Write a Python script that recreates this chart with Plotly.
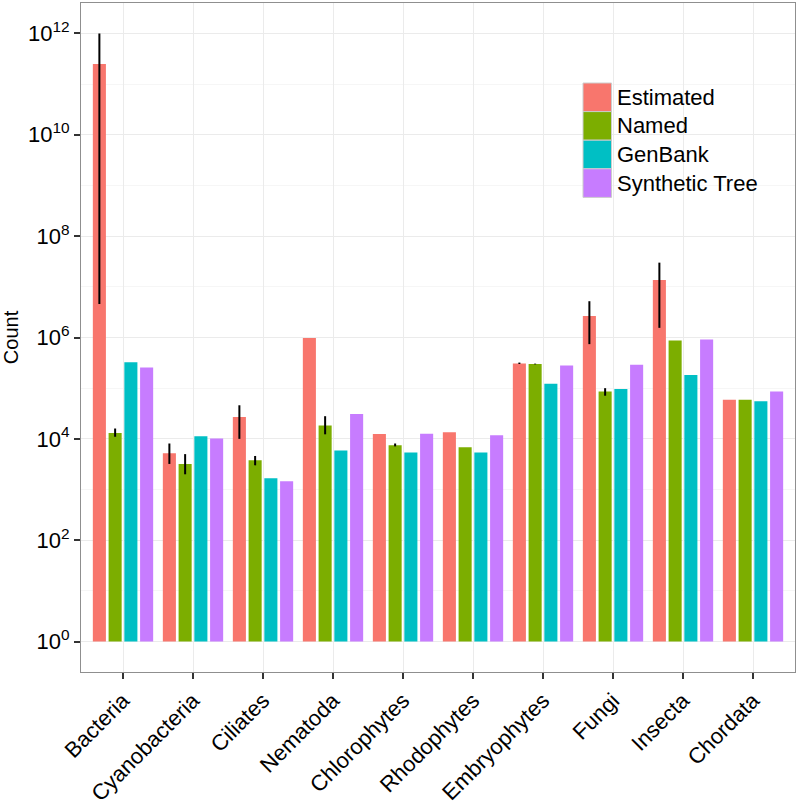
import plotly.graph_objects as go

# ---------------- data ----------------
categories = ["Bacteria", "Cyanobacteria", "Ciliates", "Nematoda", "Chlorophytes",
              "Rhodophytes", "Embryophytes", "Fungi", "Insecta", "Chordata"]
series_names = ["Estimated", "Named", "GenBank", "Synthetic Tree"]

estimated = [2.5e11, 5.2e3, 2.7e4, 9.8e5, 1.25e4, 1.35e4, 3.08e5, 2.65e6, 1.36e7, 5.9e4]
named     = [1.3e4, 3.2e3, 3.8e3, 1.83e4, 7.5e3, 6.8e3, 3.0e5, 8.6e4, 8.7e5, 5.9e4]
genbank   = [3.25e5, 1.12e4, 1.67e3, 5.9e3, 5.4e3, 5.4e3, 1.22e5, 9.6e4, 1.83e5, 5.5e4]
synthetic = [2.57e5, 1.02e4, 1.45e3, 3.1e4, 1.26e4, 1.18e4, 2.8e5, 2.9e5, 9.1e5, 8.6e4]

estimated_hi = [1.0e12, 8.1e3, 4.6e4, None, None, None, 3.2e5, 5.2e6, 3.0e7, None]
estimated_lo = [4.6e6, 3.2e3, 1.0e4, None, None, None, 3.0e5, 7.4e5, 1.55e6, None]
named_hi     = [1.6e4, 5.0e3, 4.6e3, 2.8e4, 8.1e3, None, 3.05e5, 1.0e5, None, None]
named_lo     = [1.1e4, 2.0e3, 3.0e3, 1.23e4, 7.1e3, None, 2.95e5, 7.1e4, None, None]
no_err       = [None] * len(categories)

series_values = [estimated, named, genbank, synthetic]
series_hi = [estimated_hi, named_hi, no_err, no_err]
series_lo = [estimated_lo, named_lo, no_err, no_err]

y_tick_exponents = [0, 2, 4, 6, 8, 10, 12]
y_minor_exponents = [1, 3, 5, 7, 9, 11]

# ---------------- styling ----------------
colors = ["#F8766D", "#7CAE00", "#00BFC4", "#C77CFF"]
FONT = "Liberation Sans, Arial, Helvetica, sans-serif"
W, H = 796, 806
ML, MR, MT, MB = 81, 1, 3, 134
BASE = 1.0  # bars grow from 10^0 as in the original

fig = go.Figure()
for name, vals, hi, lo, col in zip(series_names, series_values, series_hi, series_lo, colors):
    plus = [(h - v) if h is not None else 0 for h, v in zip(hi, vals)]
    minus = [(v - l) if l is not None else 0 for l, v in zip(lo, vals)]
    fig.add_trace(go.Bar(
        name=name,
        x=categories,
        y=[v - BASE for v in vals],
        base=BASE,
        marker=dict(color=col, line=dict(width=0)),
        error_y=dict(type="data", symmetric=False, array=plus, arrayminus=minus,
                     color="black", thickness=2, width=0),
        showlegend=False,
    ))

# ----- custom legend (large ggplot-style keys) -----
plot_w = W - ML - MR
plot_h = H - MT - MB
def px_x(px):
    return (px - ML) / plot_w
def px_y(py):
    return (H - MB - py) / plot_h

key_left, key_right = 583, 611.5
key_top, key_h = 83, 28.6
for i, (name, col) in enumerate(zip(series_names, colors)):
    t = key_top + i * key_h
    fig.add_shape(type="rect", xref="paper", yref="paper",
                  x0=px_x(key_left), x1=px_x(key_right),
                  y0=px_y(t + key_h), y1=px_y(t),
                  fillcolor=col, line=dict(color="#CCCCCC", width=1), layer="above")
    fig.add_annotation(xref="paper", yref="paper", x=px_x(615), y=px_y(t + key_h / 2),
                       text=name, showarrow=False, xanchor="left", yanchor="middle",
                       font=dict(size=22, color="black", family=FONT))

fig.update_layout(
    width=W, height=H,
    margin=dict(l=ML, r=MR, t=MT, b=MB, autoexpand=False),
    paper_bgcolor="white", plot_bgcolor="white",
    barmode="group", bargap=0.1, bargroupgap=0.17,
    font=dict(family=FONT, color="black"),
    showlegend=False,
)
fig.update_xaxes(
    type="category",
    range=[-0.6, len(categories) - 0.4],
    showgrid=True, gridcolor="#EBEBEB", gridwidth=1,
    showline=True, mirror=True, linecolor="#8F8F8F", linewidth=1,
    ticks="outside", ticklen=6, tickcolor="#333333", tickwidth=1.5,
    tickangle=-45, tickfont=dict(size=22, color="black", family=FONT),
    zeroline=False,
)
fig.update_yaxes(
    type="log",
    range=[-0.6, 12.6],
    tickvals=[10 ** e for e in y_tick_exponents],
    ticktext=["10<sup>%d</sup>" % e for e in y_tick_exponents],
    showgrid=True, gridcolor="#EBEBEB", gridwidth=1,
    minor=dict(tickvals=[10 ** e for e in y_minor_exponents], showgrid=True,
               gridcolor="#F6F6F6", gridwidth=1, ticks=""),
    showline=True, mirror=True, linecolor="#8F8F8F", linewidth=1,
    ticks="outside", ticklen=6, tickcolor="#333333", tickwidth=1.5,
    tickfont=dict(size=22, color="black", family=FONT),
    title=dict(text="Count", font=dict(size=20, color="black", family=FONT), standoff=4),
    zeroline=False,
)

fig.write_html("out.html", config={"displayModeBar": False},
               post_script="document.body.style.margin='0';")
